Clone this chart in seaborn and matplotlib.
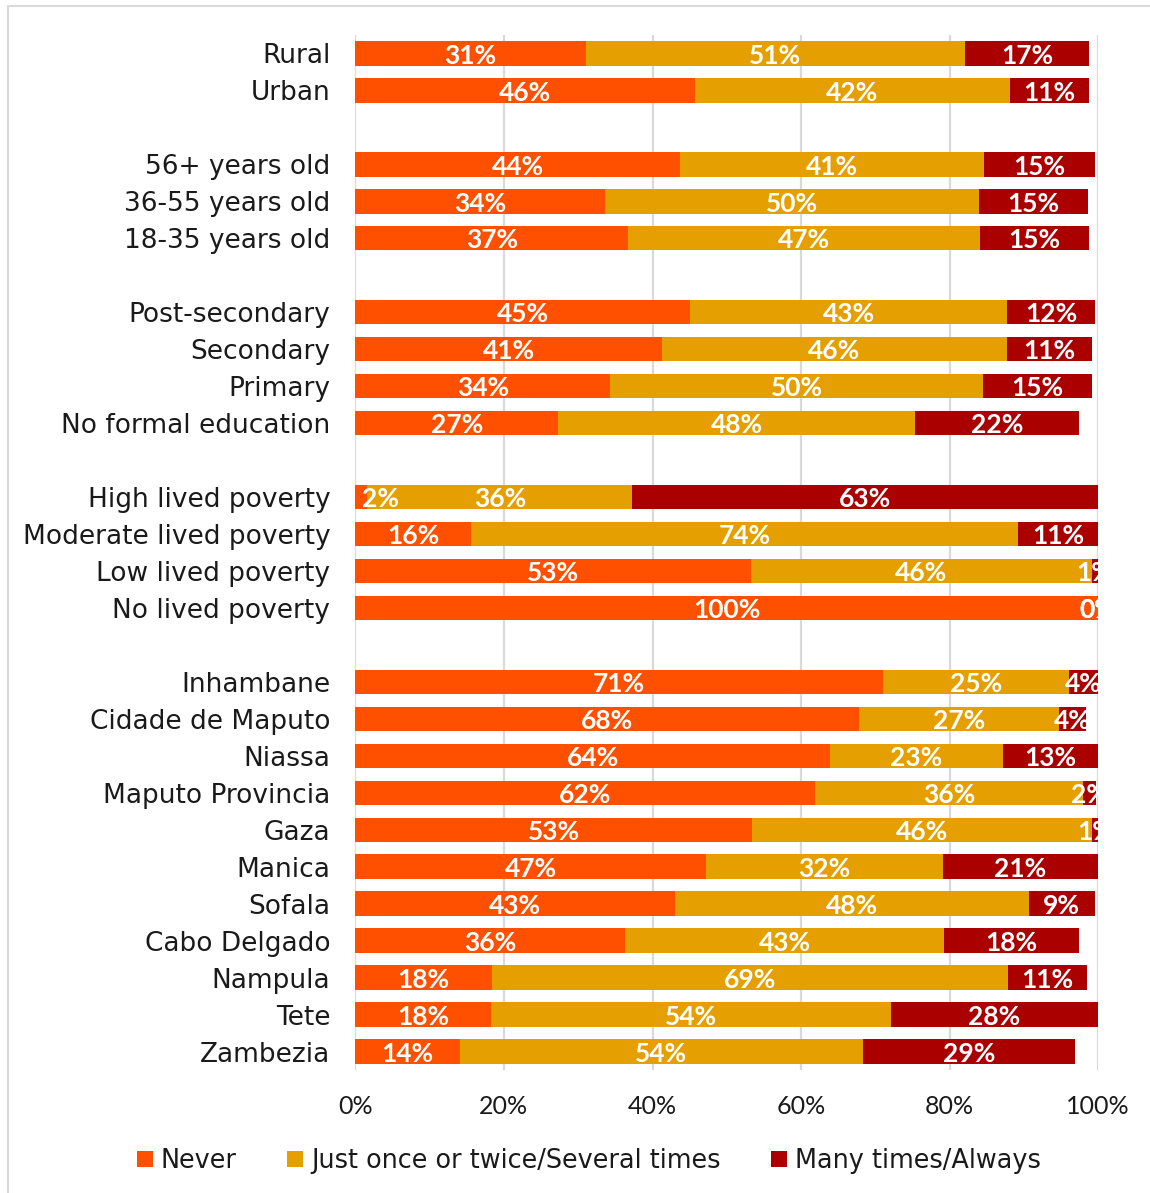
import matplotlib
matplotlib.use("Agg")
import matplotlib.pyplot as plt
from matplotlib.patches import Patch, Rectangle
from matplotlib.ticker import PercentFormatter
import pandas as pd
import seaborn as sns

# Respondent groups, top to bottom; a blank row separates each block
demographics = ["Rural", "Urban"]
age_groups = ["56+ years old", "36-55 years old", "18-35 years old"]
education = ["Post-secondary", "Secondary", "Primary", "No formal education"]
poverty = ["High lived poverty", "Moderate lived poverty", "Low lived poverty",
           "No lived poverty"]
provinces = ["Inhambane", "Cidade de Maputo", "Niassa", "Maputo Provincia", "Gaza",
             "Manica", "Sofala", "Cabo Delgado", "Nampula", "Tete", "Zambezia"]
blocks = [demographics, age_groups, education, poverty, provinces]

# Shares of respondents (%) per answer
never = [31.0, 45.7,
         43.7, 33.6, 36.7,
         45.1, 41.3, 34.3, 27.3,
         1.6, 15.6, 53.3, 100.0,
         71.0, 67.8, 63.9, 61.9, 53.4, 47.2, 43.0, 36.3, 18.4, 18.2, 14.1]
once = [51.1, 42.4,
        40.9, 50.4, 47.4,
        42.6, 46.4, 50.2, 48.1,
        35.7, 73.6, 45.8, 0.0,
        25.0, 26.9, 23.3, 36.1, 45.8, 31.9, 47.7, 43.0, 69.4, 53.9, 54.2]
many = [16.7, 10.6,
        14.9, 14.6, 14.6,
        11.9, 11.4, 14.6, 22.0,
        62.7, 10.8, 0.9, 0.0,
        4.0, 3.6, 12.8, 1.7, 0.8, 20.9, 8.8, 18.1, 10.7, 27.9, 28.6]

series_names = ["Never", "Just once or twice/Several times", "Many times/Always"]
series_colors = ["#FF5000", "#E69F00", "#AA0000"]

sns.set_theme(style="white")
plt.rcParams["font.family"] = ["Lato", "DejaVu Sans"]
LABEL_FONT = "DejaVu Sans"

# Row order with unique blank spacer rows between blocks
categories = []
row_order = []
for i, block in enumerate(blocks):
    if i > 0:
        row_order.append(" " * i)
    row_order.extend(block)
    categories.extend(block)

values = [never, once, many]
records = []
for j, cat in enumerate(categories):
    cum = 0.0
    for k, name in enumerate(series_names):
        cum += values[k][j]
        records.append({"group": cat, "answer": name, "cumulative": cum})
df = pd.DataFrame(records)

fig = plt.figure(figsize=(11.5, 11.93), dpi=100)
ax = fig.add_subplot(111)
fig.subplots_adjust(left=0.309, right=0.955, top=0.9707, bottom=0.1031)

# Stacked bars: cumulative totals drawn back to front
sns.barplot(data=df, x="cumulative", y="group", hue="answer",
            order=row_order, hue_order=series_names[::-1],
            palette=dict(zip(series_names, series_colors)),
            dodge=False, width=0.66, orient="h", saturation=1,
            linewidth=0, errorbar=None, legend=False, ax=ax)

# Value labels centred in each segment
pos = {cat: row_order.index(cat) for cat in categories}
for j, cat in enumerate(categories):
    left = 0.0
    y = pos[cat] + 0.06
    for k in range(3):
        v = values[k][j]
        txt = f"{v:.0f}%"
        if left == 0 and v < 4:
            ax.text(0.9, y, txt, ha="left", va="center", color="white",
                    fontsize=19, fontweight="bold")
        else:
            ax.text(left + v / 2, y, txt, ha="center", va="center",
                    color="white", fontsize=19, fontweight="bold")
        left += v

ax.set_xlim(0, 100)
ax.set_xticks(range(0, 101, 20))
ax.xaxis.set_major_formatter(PercentFormatter(100, decimals=0))
ax.set_xlabel("")
ax.set_ylabel("")
ax.grid(axis="x", color="#D9D9D9", linewidth=1.6)
ax.grid(axis="y", visible=False)
ax.set_axisbelow(True)
for s in ax.spines.values():
    s.set_visible(False)
ax.tick_params(axis="y", length=0, pad=18, labelsize=19, labelcolor="#1a1a1a")
ax.tick_params(axis="x", length=0, pad=18, labelsize=18, labelcolor="#1a1a1a")
for lbl in ax.get_yticklabels():
    lbl.set_fontfamily(LABEL_FONT)

handles = [Patch(facecolor=c, edgecolor="none") for c in series_colors]
fig.legend(handles, series_names, loc="center", bbox_to_anchor=(0.512, 0.027),
           ncol=3, frameon=False, handlelength=0.62,
           handleheight=0.62, handletextpad=0.3, columnspacing=2.0,
           labelcolor="#1a1a1a",
           prop={"family": LABEL_FONT, "size": 18.4})

# Light frame around the chart area
fig.add_artist(Rectangle((8 / 1150, -0.05), 1.2, 1 - 6 / 1193 + 0.05,
                         transform=fig.transFigure, fill=False,
                         edgecolor="#D9D9D9", linewidth=1.5))

fig.savefig("out.png", dpi=100)
